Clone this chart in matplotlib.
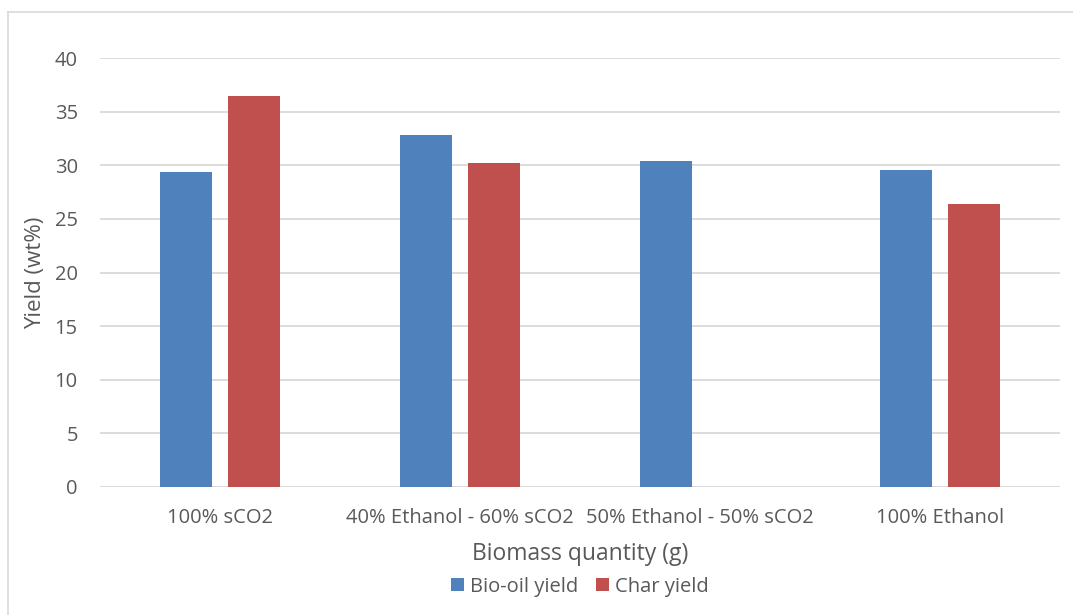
import matplotlib
matplotlib.use('Agg')
import matplotlib.pyplot as plt
from matplotlib.lines import Line2D
import numpy as np

# Yield per solvent mixture
categories = ['100% sCO2', '40% Ethanol - 60% sCO2', '50% Ethanol - 50% sCO2', '100% Ethanol']
bio_oil = [29.4, 32.8, 30.4, 29.6]
char = [36.5, 30.2, np.nan, 26.4]
yticks = [0, 5, 10, 15, 20, 25, 30, 35, 40]

BLUE = '#4f81bd'
RED = '#c0504d'
TEXT = '#595959'
GRID = '#d9d9d9'

plt.rcParams['font.family'] = ['Open Sans', 'DejaVu Sans']

W, H = 1073, 615
fig = plt.figure(figsize=(W / 100, H / 100), dpi=100)
ax = fig.add_axes([100 / W, 1 - 487 / H, 960 / W, (487 - 58) / H])

x = np.arange(len(categories))
width = 0.22
ax.bar(x - 0.142, bio_oil, width, color=BLUE, label='Bio-oil yield', zorder=3)
ax.bar(x + 0.142, char, width, color=RED, label='Char yield', zorder=3)

ax.set_xlim(-0.5, len(categories) - 0.5)
ax.set_ylim(0, 40)
ax.set_yticks(yticks)
ax.set_xticks(x)
ax.set_xticklabels(categories)
ax.yaxis.grid(True, color=GRID, linewidth=1.3, zorder=0)
for s in ax.spines.values():
    s.set_visible(False)
ax.axhline(0, color=GRID, linewidth=1.3, zorder=2)
ax.tick_params(axis='both', length=0, labelsize=14.5, labelcolor=TEXT)
ax.tick_params(axis='y', pad=16)
ax.tick_params(axis='x', pad=15)

ax.set_ylabel('Yield (wt%)', fontsize=16, color=TEXT, labelpad=6)
ax.set_xlabel('Biomass quantity (g)', fontsize=16.5, color=TEXT, labelpad=10)

leg = ax.legend(loc='upper center', bbox_to_anchor=(0.5, -0.19), ncol=2, frameon=False,
                fontsize=14.5, handlelength=0.65, handleheight=0.65, handletextpad=0.3,
                columnspacing=0.9, borderaxespad=0)
for t in leg.get_texts():
    t.set_color(TEXT)

# light outline around the chart area
fig.add_artist(Line2D([8 / W, 8 / W], [0, 1 - 12 / H], transform=fig.transFigure, color=GRID, linewidth=1.2))
fig.add_artist(Line2D([8 / W, 1], [1 - 12 / H, 1 - 12 / H], transform=fig.transFigure, color=GRID, linewidth=1.2))

fig.savefig('out.png', dpi=100, facecolor='white')
